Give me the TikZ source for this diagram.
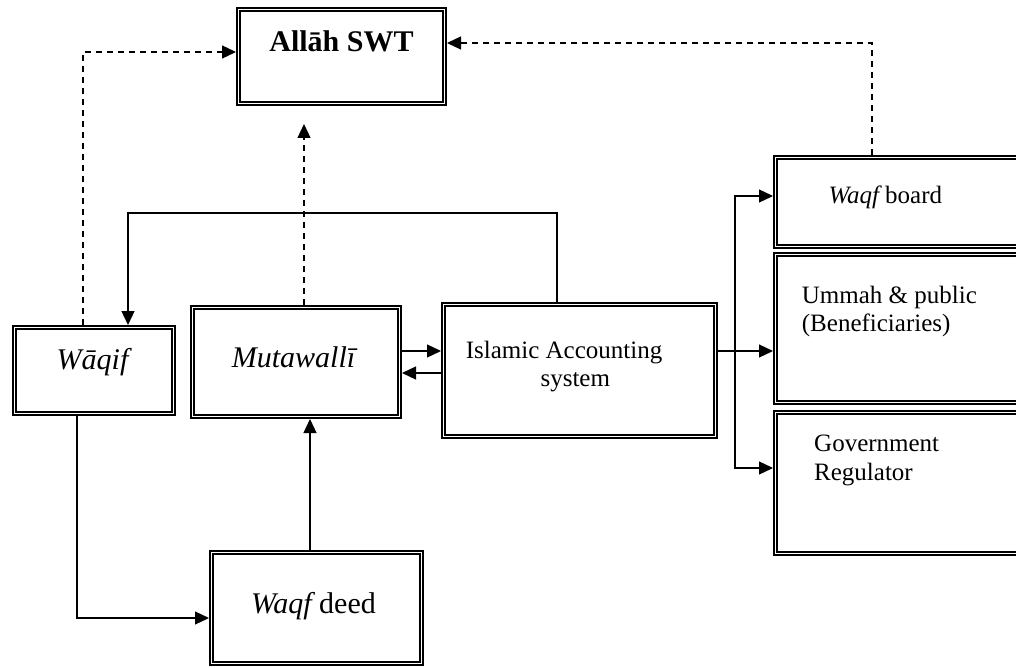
\documentclass[tikz,border=0pt]{standalone}
\usepackage{fontspec}
\setmainfont{Liberation Serif}
\usetikzlibrary{arrows.meta}
\begin{document}
\begin{tikzpicture}[x=1pt,y=-1pt,
  dbox/.style={draw, double, line width=1.7pt, double distance=1.2pt, inner sep=0pt, outer sep=2.3pt},
  conn/.style={line width=1.2pt},
  arr/.style={conn, -{Triangle[length=14pt,width=13pt]}},
  darr/.style={arr, dash pattern=on 6pt off 5pt},
  big/.style={font=\fontsize{30}{34}\selectfont, inner sep=0pt},
  mid/.style={font=\fontsize{25}{28.5}\selectfont, inner sep=0pt}]
\useasboundingbox (0,0) rectangle (1016,668);
\clip (0,0) rectangle (1016,668);
% boxes
\node[dbox, minimum width=206.4pt, minimum height=94.4pt] (allah) at (341.5,56.5) {};
\node[dbox, minimum width=159.4pt, minimum height=86.4pt] (waqif) at (94,370.5) {};
\node[dbox, minimum width=207.4pt, minimum height=109.4pt] (mut) at (296,362) {};
\node[dbox, minimum width=272.4pt, minimum height=132.4pt] (ias) at (579.5,370.5) {};
\node[dbox, minimum width=252.4pt, minimum height=89.4pt] (board) at (901.5,202) {};
\node[dbox, minimum width=252.4pt, minimum height=148.4pt] (ummah) at (901.5,328.5) {};
\node[dbox, minimum width=252.4pt, minimum height=141.4pt] (gov) at (901.5,483) {};
\node[dbox, minimum width=210.4pt, minimum height=111.4pt] (deed) at (316.5,608) {};
% texts
\node[big, font=\fontsize{30}{34}\selectfont\bfseries, anchor=base] (tallah) at (341.5,52) {Allāh SWT};
\node[big, anchor=base] (twaqif) at (92.5,369) {\itshape Wāqif};
\node[big, anchor=base] (tmut) at (293.5,367.7) {\itshape Mutawallī};
\node[mid, anchor=base] (tias1) at (564,358.3) {Islamic Accounting};
\node[mid, anchor=base] (tias2) at (575.3,386.7) {system};
\node[mid, anchor=base west] (tboard) at (828.3,204) {\itshape Waqf\upshape\ board};
\node[mid, anchor=base west] (tum1) at (801.7,303.3) {Ummah \& public};
\node[mid, anchor=base west] (tum2) at (801.7,331.7) {(Beneficiaries)};
\node[mid, anchor=base west] (tgov1) at (814,451.7) {Government};
\node[mid, anchor=base west] (tgov2) at (814,480.7) {Regulator};
\node[big, anchor=base] (tdeed) at (313.5,613.3) {\itshape Waqf\upshape\ deed};
% connectors
\coordinate (mtip) at (304,124);
\draw[darr] (83,0 |- waqif.north) |- (allah.west |- 0,52);
\draw[darr] (872,0 |- board.north) |- (allah.east |- 0,43);
\draw[darr] (304,0 |- mut.north) -- (mtip);
\draw[arr] (557,0 |- ias.north) -- (557,213) -| (128,0 |- waqif.north);
\draw[arr] (mut.east |- 0,351) -- (ias.west |- 0,351);
\draw[arr] (ias.west |- 0,373) -- (mut.east |- 0,373);
\draw[arr] (ias.east |- 0,351) -- (ummah.west |- 0,351);
\draw[conn, {Triangle[length=14pt,width=13pt]}-{Triangle[length=14pt,width=13pt]}] (board.west |- 0,196) -| (735,468) -- (gov.west |- 0,468);
\draw[arr] (77,0 |- waqif.south) |- (deed.west |- 0,618);
\draw[arr] (310,0 |- deed.north) -- (310,0 |- mut.south);
\end{tikzpicture}
\end{document}
